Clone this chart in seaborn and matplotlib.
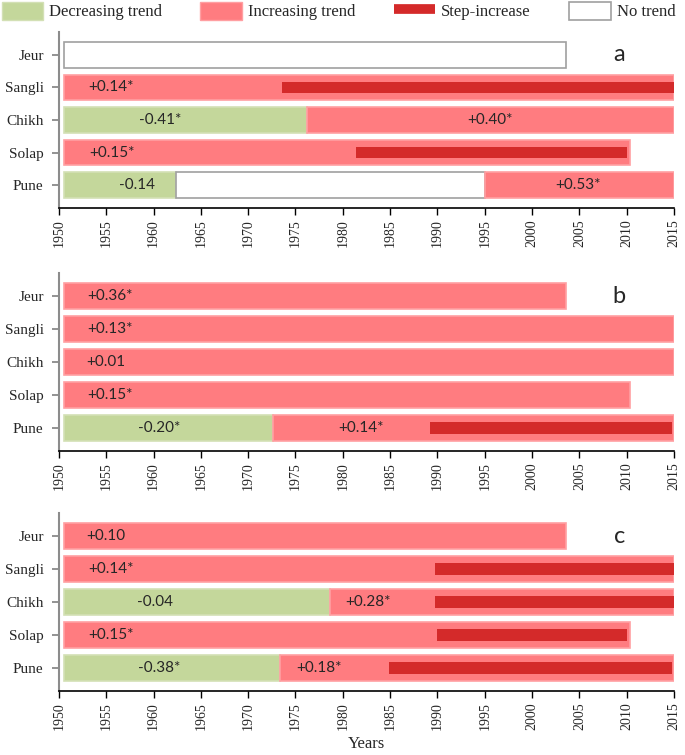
import matplotlib.pyplot as plt
import seaborn as sns
from matplotlib.patches import Patch
from matplotlib.lines import Line2D

# === STYLE CONFIGURATION ===
sns.set_theme(style="ticks")
plt.rcParams["font.family"] = ["Liberation Serif", "DejaVu Serif"]

# === DATA ===
stations = ["Jeur", "Sangli", "Chikh", "Solap", "Pune"]
year_ticks = list(range(1950, 2016, 5))

# trend segments: (station, start year, end year, trend, label, label year)
segments_a = [
    ("Jeur", 1950.5, 2003.6, "none", "", None),
    ("Sangli", 1950.5, 2015.0, "inc", "+0.14*", 1955.5),
    ("Chikh", 1950.5, 1976.2, "dec", "-0.41*", 1960.7),
    ("Chikh", 1976.2, 2015.0, "inc", "+0.40*", 1995.5),
    ("Solap", 1950.5, 2010.3, "inc", "+0.15*", 1955.6),
    ("Pune", 1950.5, 1962.4, "dec", "-0.14", 1958.3),
    ("Pune", 1962.4, 1995.0, "none", "", None),
    ("Pune", 1995.0, 2015.0, "inc", "+0.53*", 2004.9),
]
segments_b = [
    ("Jeur", 1950.5, 2003.6, "inc", "+0.36*", 1955.4),
    ("Sangli", 1950.5, 2015.0, "inc", "+0.13*", 1955.4),
    ("Chikh", 1950.5, 2015.0, "inc", "+0.01", 1955.0),
    ("Solap", 1950.5, 2010.3, "inc", "+0.15*", 1955.4),
    ("Pune", 1950.5, 1972.6, "dec", "-0.20*", 1960.6),
    ("Pune", 1972.6, 2015.0, "inc", "+0.14*", 1981.9),
]
segments_c = [
    ("Jeur", 1950.5, 2003.6, "inc", "+0.10", 1955.0),
    ("Sangli", 1950.5, 2015.0, "inc", "+0.14*", 1955.5),
    ("Chikh", 1950.5, 1978.6, "dec", "-0.04", 1960.2),
    ("Chikh", 1978.6, 2015.0, "inc", "+0.28*", 1982.7),
    ("Solap", 1950.5, 2010.3, "inc", "+0.15*", 1955.5),
    ("Pune", 1950.5, 1973.4, "dec", "-0.38*", 1960.6),
    ("Pune", 1973.4, 2015.0, "inc", "+0.18*", 1977.5),
]

# step-increase periods: (station, start year, end year)
steps_a = [("Sangli", 1973.6, 2015.0), ("Solap", 1981.4, 2010.0)]
steps_b = [("Pune", 1989.2, 2014.8)]
steps_c = [("Sangli", 1989.7, 2015.0), ("Chikh", 1989.7, 2015.0),
           ("Solap", 1989.9, 2010.0), ("Pune", 1984.9, 2014.8)]

panel_letters = ["a", "b", "c"]

# === COLOURS ===
FACE = {"dec": "#c4d79b", "inc": "#ff7c80", "none": "white"}
EDGE = {"dec": "#d3e0b5", "inc": "#ff9fa2", "none": "#a0a0a0"}
STEP = "#d42a2a"

fig = plt.figure(figsize=(6.85, 7.55), dpi=100)
boxes = [(0.086, 0.7245, 0.898, 0.2331),
         (0.086, 0.4026, 0.898, 0.2358),
         (0.086, 0.0848, 0.898, 0.2358)]

panels = [(segments_a, steps_a), (segments_b, steps_b), (segments_c, steps_c)]

for box, (segs, steps), letter in zip(boxes, panels, panel_letters):
    ax = fig.add_axes(box)
    ypos = {s: i for i, s in enumerate(stations)}

    for st, start, end, kind, label, lx in segs:
        ax.barh(ypos[st], end - start, left=start, height=0.79,
                color=FACE[kind], edgecolor=EDGE[kind], linewidth=1.2, zorder=2)
        if label:
            ax.text(lx, ypos[st], label, ha="center", va="center",
                    fontsize=11, family=["Lato", "DejaVu Sans"], zorder=4)

    for st, start, end in steps:
        ax.barh(ypos[st], end - start, left=start, height=0.34,
                color=STEP, linewidth=0, zorder=3)

    ax.text(2009.2, 0, letter, ha="center", va="center",
            fontsize=17, family=["Lato", "DejaVu Sans"])

    ax.set_xlim(1950, 2015)
    ax.set_ylim(4.7, -0.7)
    ax.set_xticks(year_ticks)
    ax.set_xticklabels([str(y) for y in year_ticks], rotation=90, fontsize=10)
    ax.set_yticks(range(len(stations)))
    ax.set_yticklabels(stations, fontsize=11)
    ax.tick_params(axis="x", length=5, width=1, color="black", pad=3)
    ax.tick_params(axis="y", length=5, width=1.2, color="#808080", pad=6)
    sns.despine(ax=ax)
    ax.spines["left"].set_color("#8c8c8c")
    ax.spines["left"].set_linewidth(1.5)
    ax.spines["bottom"].set_color("black")
    ax.spines["bottom"].set_linewidth(1.2)
    ax.grid(False)

ax.set_xlabel("Years", fontsize=12, labelpad=4)

# === LEGEND ===
handles = [
    Patch(facecolor=FACE["dec"], edgecolor=EDGE["dec"]),
    Patch(facecolor=FACE["inc"], edgecolor=EDGE["inc"]),
    Line2D([0], [0], color=STEP, lw=7, solid_capstyle="butt"),
    Patch(facecolor="white", edgecolor="#a0a0a0", linewidth=1.2),
]
labels = ["Decreasing trend", "Increasing trend", "Step-increase", "No trend"]
fig.legend(handles, labels, loc="upper left", bbox_to_anchor=(0.0, 1.0),
           ncol=4, frameon=False, fontsize=12, handlelength=2.5,
           handleheight=1.3, handletextpad=0.35, columnspacing=2.3,
           borderpad=0.1, borderaxespad=0.0)

fig.savefig("out.png", dpi=100)
